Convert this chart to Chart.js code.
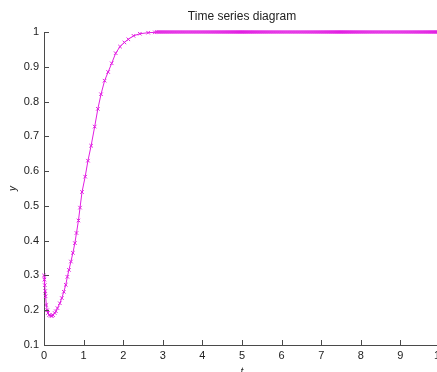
<!DOCTYPE html>
<html>
<head>
<meta charset="utf-8">
<script src="https://cdn.jsdelivr.net/npm/chart.js@4.4.0/dist/chart.umd.min.js"></script>
<style>
  html, body { margin: 0; padding: 0; background: #fff; overflow: hidden; }
  #chart { display: block; }
</style>
</head>
<body>
<canvas id="chart" width="460" height="372"></canvas>
<script>
// sample times (solver steps, dense at the start) and response y(t)
const tValues = [
  0, 0.01, 0.02, 0.03, 0.04, 0.06, 0.08, 0.10, 0.13, 0.17,
  0.20, 0.23, 0.27, 0.30, 0.34, 0.40, 0.45, 0.50, 0.55, 0.59,
  0.63, 0.68, 0.73, 0.78, 0.82, 0.87, 0.91, 0.96, 1.04, 1.11,
  1.19, 1.28, 1.36, 1.44, 1.53, 1.62, 1.71, 1.81, 1.92, 2.03,
  2.13, 2.26, 2.42, 2.63, 2.80,
  2.85, 2.9, 2.95,
  3, 3.05, 3.1, 3.15, 3.2, 3.25, 3.3, 3.35, 3.4, 3.45, 3.5, 3.55, 3.6, 3.65, 3.7, 3.75, 3.8, 3.85, 3.9, 3.95,
  4, 4.05, 4.1, 4.15, 4.2, 4.25, 4.3, 4.35, 4.4, 4.45, 4.5, 4.55, 4.6, 4.65, 4.7, 4.75, 4.8, 4.85, 4.9, 4.95,
  5, 5.05, 5.1, 5.15, 5.2, 5.25, 5.3, 5.35, 5.4, 5.45, 5.5, 5.55, 5.6, 5.65, 5.7, 5.75, 5.8, 5.85, 5.9, 5.95,
  6, 6.05, 6.1, 6.15, 6.2, 6.25, 6.3, 6.35, 6.4, 6.45, 6.5, 6.55, 6.6, 6.65, 6.7, 6.75, 6.8, 6.85, 6.9, 6.95,
  7, 7.05, 7.1, 7.15, 7.2, 7.25, 7.3, 7.35, 7.4, 7.45, 7.5, 7.55, 7.6, 7.65, 7.7, 7.75, 7.8, 7.85, 7.9, 7.95,
  8, 8.05, 8.1, 8.15, 8.2, 8.25, 8.3, 8.35, 8.4, 8.45, 8.5, 8.55, 8.6, 8.65, 8.7, 8.75, 8.8, 8.85, 8.9, 8.95,
  9, 9.05, 9.1, 9.15, 9.2, 9.25, 9.3, 9.35, 9.4, 9.45, 9.5, 9.55, 9.6, 9.65, 9.7, 9.75, 9.8, 9.85, 9.9, 9.95,
  10
];

const yValues = [
  0.300, 0.288, 0.272, 0.255, 0.240, 0.215, 0.200, 0.192, 0.186, 0.184,
  0.184, 0.186, 0.192, 0.197, 0.206, 0.220, 0.235, 0.253, 0.273, 0.296,
  0.316, 0.340, 0.365, 0.393, 0.422, 0.458, 0.495, 0.540, 0.584, 0.630,
  0.673, 0.728, 0.779, 0.821, 0.860, 0.885, 0.910, 0.939, 0.958, 0.970,
  0.979, 0.989, 0.995, 0.998, 0.999,
  1, 1, 1,
  1, 1, 1, 1, 1, 1, 1, 1, 1, 1, 1, 1, 1, 1, 1, 1, 1, 1, 1, 1,
  1, 1, 1, 1, 1, 1, 1, 1, 1, 1, 1, 1, 1, 1, 1, 1, 1, 1, 1, 1,
  1, 1, 1, 1, 1, 1, 1, 1, 1, 1, 1, 1, 1, 1, 1, 1, 1, 1, 1, 1,
  1, 1, 1, 1, 1, 1, 1, 1, 1, 1, 1, 1, 1, 1, 1, 1, 1, 1, 1, 1,
  1, 1, 1, 1, 1, 1, 1, 1, 1, 1, 1, 1, 1, 1, 1, 1, 1, 1, 1, 1,
  1, 1, 1, 1, 1, 1, 1, 1, 1, 1, 1, 1, 1, 1, 1, 1, 1, 1, 1, 1,
  1, 1, 1, 1, 1, 1, 1, 1, 1, 1, 1, 1, 1, 1, 1, 1, 1, 1, 1, 1,
  1
];

const xTickValues = [0, 1, 2, 3, 4, 5, 6, 7, 8, 9, 10];
const xTickLabels = ['0', '1', '2', '3', '4', '5', '6', '7', '8', '9', '10'];
const yTickValues = [0.1, 0.2, 0.3, 0.4, 0.5, 0.6, 0.7, 0.8, 0.9, 1];
const yTickLabels = ['0.1', '0.2', '0.3', '0.4', '0.5', '0.6', '0.7', '0.8', '0.9', '1'];

const FONT = "'Liberation Sans', Arial, sans-serif";
const LINE_COLOR = '#e21ee2';
const AXIS_COLOR = '#4a4a4a';
const TEXT_COLOR = '#222222';

function labelFor(values, labels, v) {
    const i = values.findIndex(t => Math.abs(t - v) < 1e-6);
    return i >= 0 ? labels[i] : '';
}

// MATLAB style: tick marks point into the plot, title centred on the axes, axis labels
const matlabAxes = {
    id: 'matlabAxes',
    afterDraw(chart) {
        const ctx = chart.ctx;
        const area = chart.chartArea;
        const xs = chart.scales.x;
        const ys = chart.scales.y;
        const midX = (area.left + area.right) / 2;
        ctx.save();
        ctx.strokeStyle = AXIS_COLOR;
        ctx.lineWidth = 1;
        ctx.beginPath();
        xTickValues.forEach(v => {
            const px = Math.round(xs.getPixelForValue(v)) + 0.5;
            ctx.moveTo(px, area.bottom);
            ctx.lineTo(px, area.bottom - 5);
        });
        yTickValues.forEach(v => {
            const py = Math.round(ys.getPixelForValue(v)) + 0.5;
            ctx.moveTo(area.left, py);
            ctx.lineTo(area.left + 5, py);
        });
        ctx.stroke();

        ctx.fillStyle = TEXT_COLOR;
        ctx.textAlign = 'center';
        ctx.textBaseline = 'middle';
        ctx.font = '12px ' + FONT;
        ctx.fillText('Time series diagram', midX, 17);

        ctx.font = 'italic 10px ' + FONT;
        ctx.textBaseline = 'top';
        ctx.fillText('t', midX, 367);

        ctx.translate(13, (area.top + area.bottom) / 2);
        ctx.rotate(-Math.PI / 2);
        ctx.textBaseline = 'middle';
        ctx.fillText('y', 0, 0);
        ctx.restore();
    }
};

const points = tValues.map((t, i) => ({ x: t, y: yValues[i] }));

new Chart(document.getElementById('chart'), {
    type: 'line',
    data: {
        datasets: [{
            data: points,
            borderColor: LINE_COLOR,
            borderWidth: 1,
            tension: 0,
            fill: false,
            clip: false,
            pointStyle: 'crossRot',
            pointRadius: 2.5,
            pointBorderWidth: 1,
            pointBorderColor: LINE_COLOR,
            pointBackgroundColor: 'rgba(0,0,0,0)'
        }]
    },
    options: {
        responsive: false,
        animation: false,
        layout: { padding: { top: 32, left: 0, right: 20, bottom: 0 } },
        plugins: {
            legend: { display: false },
            tooltip: { enabled: false },
            title: { display: false }
        },
        scales: {
            x: {
                type: 'linear',
                min: 0,
                max: 10,
                afterBuildTicks: s => { s.ticks = xTickValues.map(v => ({ value: v })); },
                afterFit: s => { s.height = 27; },
                ticks: {
                    padding: 4,
                    color: TEXT_COLOR,
                    font: { family: FONT, size: 11 },
                    maxRotation: 0,
                    autoSkip: false,
                    callback: v => labelFor(xTickValues, xTickLabels, v)
                },
                grid: { display: true, drawOnChartArea: false, drawTicks: false },
                border: { display: true, color: AXIS_COLOR, width: 1 }
            },
            y: {
                type: 'linear',
                min: 0.1,
                max: 1,
                afterBuildTicks: s => { s.ticks = yTickValues.map(v => ({ value: v })); },
                afterFit: s => { s.width = 44; },
                ticks: {
                    padding: 5,
                    color: TEXT_COLOR,
                    font: { family: FONT, size: 11 },
                    autoSkip: false,
                    callback: v => labelFor(yTickValues, yTickLabels, v)
                },
                grid: { display: true, drawOnChartArea: false, drawTicks: false },
                border: { display: true, color: AXIS_COLOR, width: 1 }
            }
        }
    },
    plugins: [matlabAxes]
});
</script>
</body>
</html>
